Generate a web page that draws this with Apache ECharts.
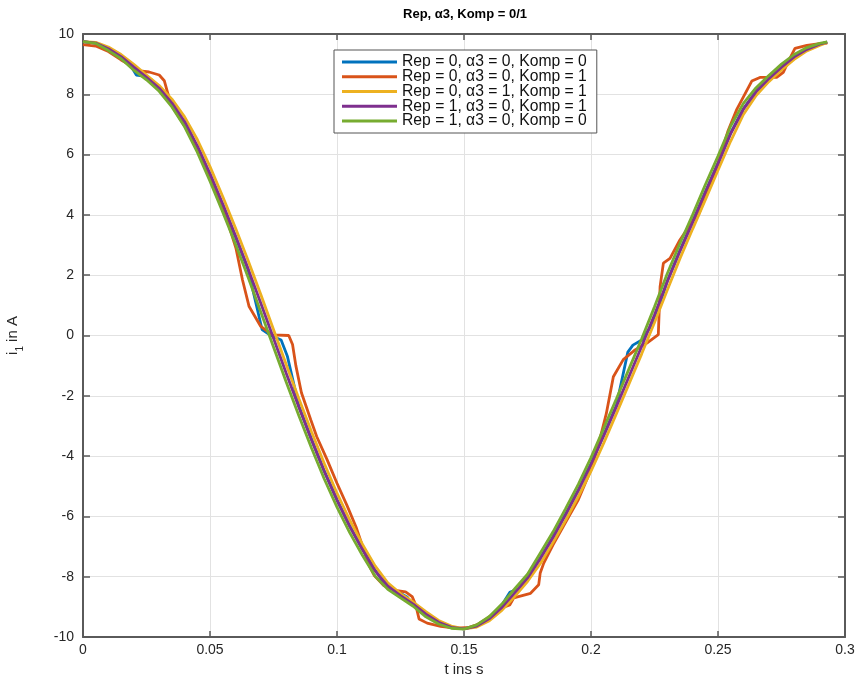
<!DOCTYPE html>
<html>
<head>
<meta charset="utf-8">
<script src="https://cdn.jsdelivr.net/npm/echarts@6/dist/echarts.min.js"></script>
<style>
html,body{margin:0;padding:0;background:#fff;}
#chart{width:858px;height:679px;}
</style>
</head>
<body>
<div id="chart"></div>
<script>
// ---- data ----
const titleText = 'Rep, α3, Komp = 0/1';
const xName = 't ins s';
const seriesNames = [
  'Rep = 0, α3 = 0, Komp = 0',
  'Rep = 0, α3 = 0, Komp = 1',
  'Rep = 0, α3 = 1, Komp = 1',
  'Rep = 1, α3 = 0, Komp = 1',
  'Rep = 1, α3 = 0, Komp = 0'
];
const seriesColors = ['#0072BD', '#D95319', '#EDB120', '#7E2F8E', '#77AC30'];

const timeGrid = [0,0.005,0.01,0.015,0.02,0.025,0.03,0.035,0.04,0.045,
  0.05,0.055,0.06,0.065,0.07,0.075,0.08,0.085,0.09,0.095,
  0.1,0.105,0.11,0.115,0.12,0.125,0.13,0.135,0.14,0.145,
  0.15,0.155,0.16,0.165,0.17,0.175,0.18,0.185,0.19,0.195,
  0.2,0.205,0.21,0.215,0.22,0.225,0.23,0.235,0.24,0.245,
  0.25,0.255,0.26,0.265,0.27,0.275,0.28,0.285,0.29,0.293];

const greenV = [9.75,9.69,9.45,9.18,8.80,8.48,8.10,7.58,6.92,6.08,
  5.12,4.10,3.04,1.93,0.78,-0.38,-1.54,-2.66,-3.74,-4.76,
  -5.69,-6.54,-7.29,-7.98,-8.42,-8.70,-8.98,-9.33,-9.57,-9.71,
  -9.74,-9.60,-9.32,-8.90,-8.40,-7.92,-7.22,-6.52,-5.74,-4.94,
  -4.05,-3.08,-2.10,-1.10,-0.10,0.95,2.05,3.05,4.00,5.00,
  5.95,6.95,7.70,8.22,8.62,9.00,9.32,9.55,9.69,9.74];

const purpleV = [9.75,9.70,9.51,9.25,8.90,8.56,8.20,7.71,7.09,6.29,
  5.36,4.36,3.31,2.21,1.07,-0.09,-1.25,-2.38,-3.47,-4.51,
  -5.46,-6.33,-7.10,-7.81,-8.31,-8.63,-8.91,-9.24,-9.51,-9.68,
  -9.73,-9.64,-9.39,-9.01,-8.53,-8.04,-7.40,-6.70,-5.94,-5.14,
  -4.27,-3.32,-2.35,-1.35,-0.35,0.69,1.78,2.80,3.76,4.75,
  5.71,6.70,7.51,8.09,8.52,8.90,9.24,9.49,9.66,9.73];

const yellowV = [9.75,9.72,9.57,9.32,8.99,8.64,8.29,7.84,7.25,6.50,
  5.60,4.61,3.57,2.49,1.36,0.20,-0.96,-2.10,-3.20,-4.25,
  -5.23,-6.12,-6.92,-7.64,-8.20,-8.56,-8.84,-9.16,-9.45,-9.64,
  -9.73,-9.67,-9.46,-9.11,-8.65,-8.16,-7.57,-6.87,-6.13,-5.34,
  -4.50,-3.57,-2.59,-1.60,-0.60,0.43,1.50,2.55,3.53,4.50,
  5.48,6.45,7.33,7.96,8.42,8.81,9.16,9.44,9.62,9.72];

const blueT = [0,0.005,0.01,0.015,0.019,0.021,0.024,0.027,0.03,0.035,
  0.04,0.045,0.05,0.055,0.06,0.065,0.0705,0.074,0.078,0.0805,
  0.085,0.09,0.095,0.1,0.105,0.11,0.115,0.118,0.1215,0.125,
  0.1277,0.13,0.135,0.14,0.145,0.15,0.155,0.16,0.1645,0.168,
  0.1715,0.175,0.18,0.185,0.19,0.195,0.2,0.205,0.21,0.2145,
  0.2165,0.22,0.2235,0.226,0.23,0.235,0.24,0.245,0.25,0.255,
  0.26,0.265,0.27,0.2736,0.2765,0.28,0.285,0.29,0.293];
const blueV = [9.75,9.70,9.50,9.22,8.92,8.64,8.60,8.48,8.20,7.68,
  7.05,6.25,5.32,4.33,3.28,2.18,0.20,0.00,-0.15,-0.70,
  -2.35,-3.45,-4.50,-5.45,-6.32,-7.08,-7.78,-8.15,-8.38,-8.55,
  -8.68,-8.95,-9.26,-9.52,-9.69,-9.73,-9.63,-9.38,-9.00,-8.52,
  -8.40,-8.02,-7.38,-6.68,-5.92,-5.12,-4.25,-3.30,-2.32,-0.55,
  -0.32,-0.15,0.30,0.75,1.80,2.82,3.78,4.76,5.72,6.72,
  7.52,8.10,8.48,8.72,9.00,9.24,9.50,9.66,9.73];

const orangeT = [0,0.005,0.01,0.015,0.0195,0.0225,0.026,0.03,0.032,0.0335,
  0.035,0.04,0.045,0.05,0.055,0.0602,0.0628,0.0654,0.07,0.0745,
  0.081,0.0825,0.0838,0.086,0.0897,0.092,0.096,0.1,0.104,0.1075,
  0.1105,0.1125,0.1146,0.1185,0.123,0.127,0.1296,0.131,0.1323,0.1355,
  0.1408,0.1473,0.152,0.155,0.1591,0.1644,0.168,0.1696,0.1762,0.1794,
  0.18,0.1814,0.185,0.19,0.195,0.2,0.203,0.206,0.2088,0.2127,
  0.217,0.222,0.2265,0.2272,0.2285,0.2311,0.235,0.2403,0.2423,0.246,
  0.25,0.254,0.2574,0.2633,0.2665,0.2731,0.2757,0.2783,0.2803,0.285,
  0.29,0.293];
const orangeV = [9.65,9.60,9.42,9.14,8.92,8.78,8.74,8.64,8.45,8.00,
  7.62,6.95,6.17,5.30,4.30,2.90,1.84,0.96,0.30,0.02,
  0.00,-0.30,-1.00,-1.90,-2.80,-3.35,-4.10,-4.90,-5.65,-6.35,
  -7.10,-7.60,-7.95,-8.30,-8.45,-8.50,-8.66,-8.94,-9.40,-9.54,
  -9.65,-9.71,-9.68,-9.60,-9.38,-9.05,-8.94,-8.70,-8.55,-8.27,
  -7.88,-7.55,-6.95,-6.20,-5.45,-4.45,-3.60,-2.60,-1.37,-0.80,
  -0.50,-0.25,0.03,1.62,2.40,2.56,3.17,3.83,4.00,4.80,
  5.70,6.80,7.50,8.44,8.56,8.56,8.73,9.19,9.52,9.62,
  9.68,9.70];

const xTicks = {min: 0, max: 0.3, interval: 0.05};
const yTicks = {min: -10, max: 10, interval: 2};

// ---- build chart ----
function pairs(t, v) { return t.map((x, i) => [x, v[i]]); }
const seriesData = [
  pairs(blueT, blueV),
  pairs(orangeT, orangeV),
  pairs(timeGrid, yellowV),
  pairs(timeGrid, purpleV),
  pairs(timeGrid, greenV)
];

const FONT = 'Liberation Sans, Arial, Helvetica, sans-serif';
const axisCol = '#5a5a5a';
const labelCol = '#262626';

const chart = echarts.init(document.getElementById('chart'), null, {renderer: 'canvas'});
const option = {
  backgroundColor: '#fff',
  animation: false,
  title: {
    text: titleText, left: 460, top: 3, textAlign: 'center',
    textStyle: {fontFamily: FONT, fontSize: 13, fontWeight: 'bold', color: '#000'}
  },
  grid: {left: 83, right: 13, top: 34, bottom: 42, containLabel: false, outerBoundsMode: 'none'},
  legend: {
    data: seriesNames, orient: 'vertical', left: 334, top: 50,
    backgroundColor: '#fff', borderColor: '#555', borderWidth: 1,
    padding: [4, 10, 4, 8], itemWidth: 55, itemHeight: 3, itemGap: -1.25,
    icon: 'rect',
    textStyle: {fontFamily: FONT, fontSize: 15.7, lineHeight: 14.8, color: '#111', padding: [0, 0, 0, 0]},
    selectedMode: false
  },
  xAxis: [{
    type: 'value', position: 'bottom', min: xTicks.min, max: xTicks.max, interval: xTicks.interval,
    name: xName, nameLocation: 'middle', nameGap: 19,
    nameTextStyle: {fontFamily: FONT, fontSize: 15, color: labelCol},
    axisLine: {show: true, onZero: false, lineStyle: {color: axisCol, width: 2}},
    axisTick: {show: true, inside: true, length: 6, lineStyle: {color: axisCol, width: 1.5}},
    axisLabel: {fontFamily: FONT, fontSize: 14, color: labelCol, margin: 6},
    splitLine: {show: true, lineStyle: {color: '#e2e2e2', width: 1}}
  }, {
    type: 'value', position: 'top', min: xTicks.min, max: xTicks.max, interval: xTicks.interval,
    axisLine: {show: true, onZero: false, lineStyle: {color: axisCol, width: 2}},
    axisTick: {show: true, inside: true, length: 6, lineStyle: {color: axisCol, width: 1.5}},
    axisLabel: {show: false}, splitLine: {show: false}
  }],
  yAxis: [{
    type: 'value', position: 'left', min: yTicks.min, max: yTicks.max, interval: yTicks.interval,
    name: '{i|i}{s|1}{i| in A}', nameLocation: 'middle', nameGap: 54, nameRotate: 90,
    nameTextStyle: {
      fontFamily: FONT, color: labelCol,
      rich: {
        i: {fontFamily: FONT, fontSize: 15, color: labelCol, verticalAlign: 'top', height: 18},
        s: {fontFamily: FONT, fontSize: 10, color: labelCol, verticalAlign: 'bottom', height: 18, padding: [7, 0, 0, 0]}
      }
    },
    axisLine: {show: true, onZero: false, lineStyle: {color: axisCol, width: 2}},
    axisTick: {show: true, inside: true, length: 7, lineStyle: {color: axisCol, width: 1.5}},
    axisLabel: {fontFamily: FONT, fontSize: 14, color: labelCol, margin: 9},
    splitLine: {show: true, lineStyle: {color: '#e2e2e2', width: 1}}
  }, {
    type: 'value', position: 'right', min: yTicks.min, max: yTicks.max, interval: yTicks.interval,
    axisLine: {show: true, onZero: false, lineStyle: {color: axisCol, width: 2}},
    axisTick: {show: true, inside: true, length: 7, lineStyle: {color: axisCol, width: 1.5}},
    axisLabel: {show: false}, splitLine: {show: false}
  }],
  series: seriesNames.map((name, i) => ({
    name: name, type: 'line', xAxisIndex: 0, yAxisIndex: 0,
    data: seriesData[i], symbol: 'none', smooth: false,
    lineStyle: {color: seriesColors[i], width: 2.8},
    itemStyle: {color: seriesColors[i]},
    z: 2 + i
  }))
};
chart.setOption(option);
</script>
</body>
</html>
